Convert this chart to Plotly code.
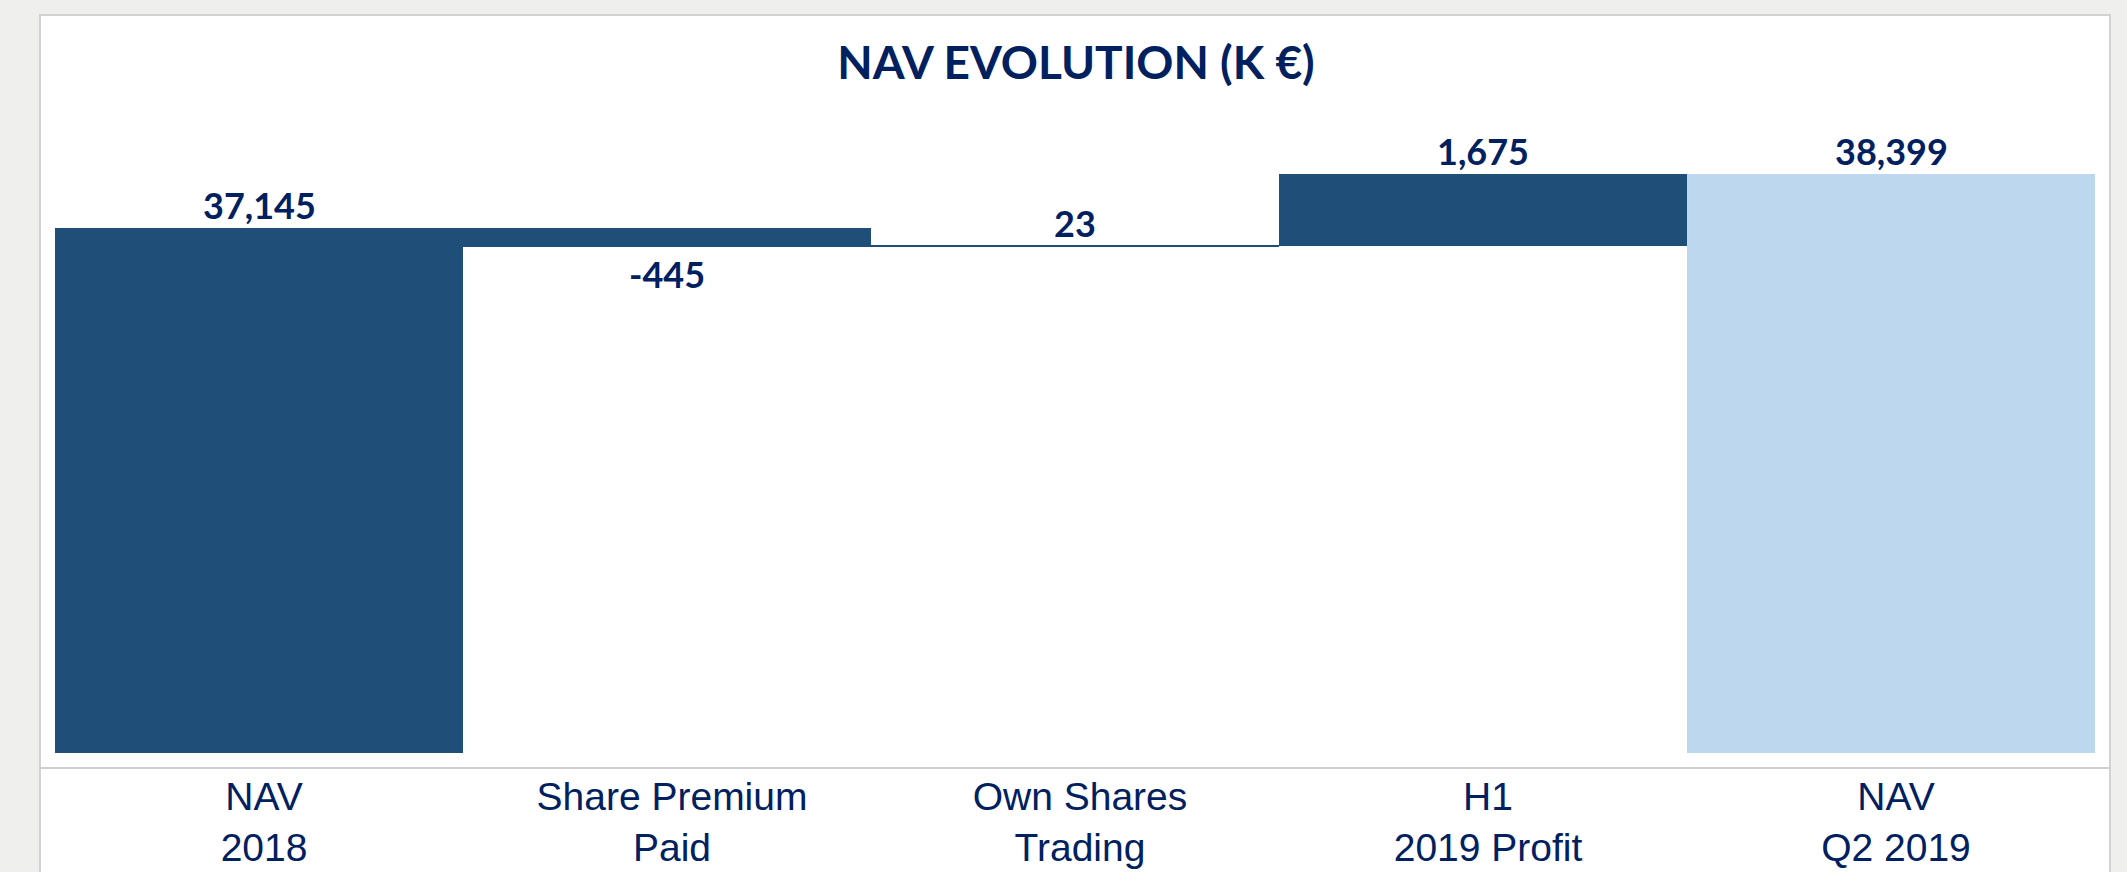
import plotly.graph_objects as go

# ---- data ----
categories = ["NAV<br>2018", "Share Premium<br>Paid", "Own Shares<br>Trading", "H1<br>2019 Profit", "NAV<br>Q2 2019"]
values = [37145, -445, 23, 1675, 38399]
measures = ["total", "relative", "relative", "relative", "total"]
title_text = "NAV EVOLUTION (K €)"

# ---- styles ----
DARK = "#1F4E79"
LIGHT = "#BDD7EE"
TEXT = "#002060"
bar_colors = [DARK, DARK, DARK, DARK, LIGHT]

W, H = 2127, 872
PL, PR = 55, 2095          # plot area x (px)
PT, PB = 100, 753          # plot area y (px)
Y0, PER_PX = 24950, 23.22  # axis floor and units per pixel
YMAX = Y0 + (PB - PT) * PER_PX

# compute bases/heights from data
bases, heights, tops = [], [], []
running = 0
for v, m in zip(values, measures):
    if m == "total":
        bases.append(0)
        heights.append(v)
        running = v
    else:
        bases.append(running)
        heights.append(v)
        running += v
    tops.append(bases[-1] + heights[-1])

fig = go.Figure()
fig.add_trace(go.Bar(
    x=categories, y=heights, base=bases,
    marker=dict(color=bar_colors, line=dict(width=0)),
    width=1.0, hoverinfo="skip",
))

def px_x(x):
    return (x - PL) / (PR - PL)

def px_y(y):
    return (PB - y) / (PB - PT)

annotations = []
for c, v, t in zip(categories, values, tops):
    if v >= 0:
        annotations.append(dict(x=c, y=t, xref="x", yref="y", text=f"{v:,}",
                                showarrow=False, yanchor="middle", yshift=23,
                                font=dict(family="Lato", size=36, color=TEXT, weight="bold")))
    else:
        annotations.append(dict(x=c, y=t, xref="x", yref="y", text=f"{v:,}",
                                showarrow=False, yanchor="middle", yshift=-27,
                                font=dict(family="Lato", size=36, color=TEXT, weight="bold")))

shapes = [
    # white panel with light gray border
    dict(type="rect", xref="paper", yref="paper",
         x0=px_x(40), x1=px_x(2110), y0=px_y(900), y1=px_y(15),
         fillcolor="white", line=dict(color="#d2d2d2", width=2), layer="below"),
    # separator line under chart
    dict(type="line", xref="paper", yref="paper",
         x0=px_x(40), x1=px_x(2110), y0=px_y(768), y1=px_y(768),
         line=dict(color="#d0d0d0", width=2), layer="above"),
]

fig.update_layout(
    width=W, height=H,
    margin=dict(l=PL, r=W - PR, t=PT, b=H - PB, autoexpand=False),
    paper_bgcolor="#efefed",
    plot_bgcolor="white",
    showlegend=False,
    bargap=0,
    title=dict(text=f"<b>{title_text}</b>", x=px_x(1076), xref="paper", xanchor="center",
               y=1 - 63 / H, yref="container", yanchor="middle",
               font=dict(family="Lato", size=46, color=TEXT)),
    annotations=annotations,
    shapes=shapes,
    xaxis=dict(showgrid=False, zeroline=False, showline=False, automargin=False,
               ticks="outside", ticklen=9, tickcolor="rgba(0,0,0,0)",
               ticklabelshift=5,
               tickfont=dict(family="Liberation Sans", size=39, color=TEXT),
               range=[-0.5, 4.5]),
    yaxis=dict(visible=False, automargin=False, range=[Y0, YMAX], showgrid=False, zeroline=False),
)

fig.write_html("out.html",
               config={"displayModeBar": False},
               post_script="document.body.style.margin='0';document.body.style.background='#efefed';")
